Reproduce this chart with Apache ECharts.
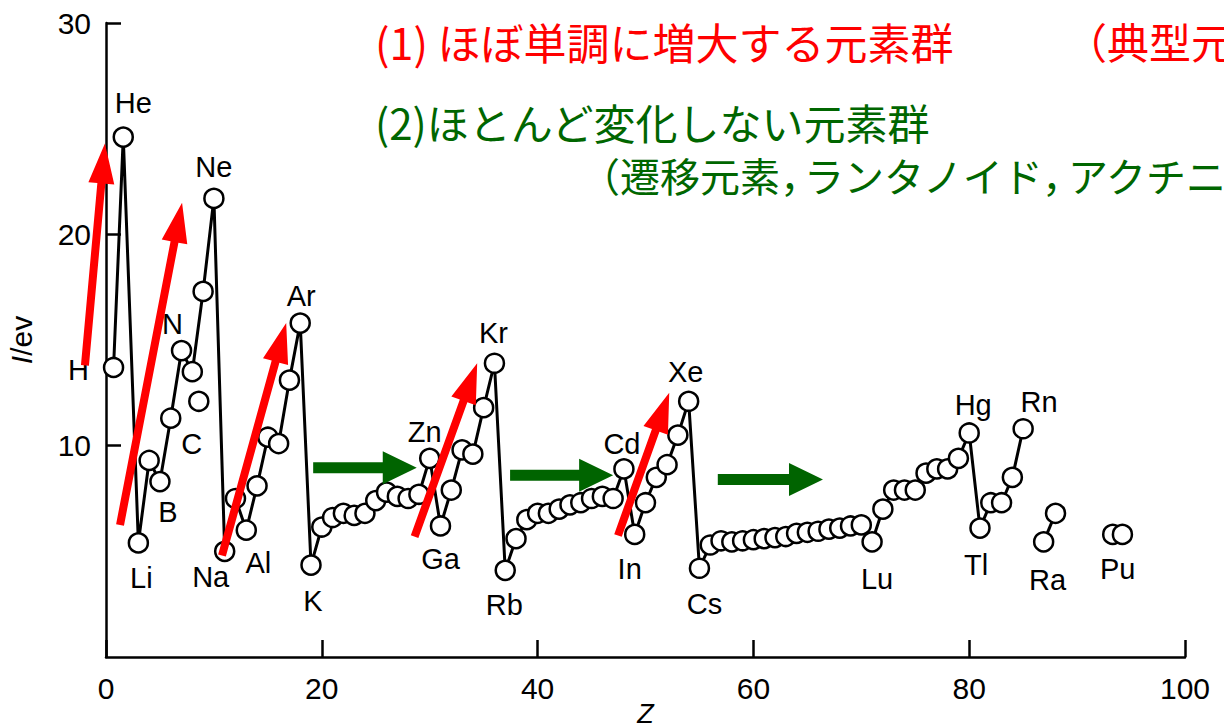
<!DOCTYPE html>
<html>
<head>
<meta charset="utf-8">
<script src="https://cdn.jsdelivr.net/npm/echarts@6/dist/echarts.min.js"></script>
<style>
html, body { margin: 0; padding: 0; background: #fff; overflow: hidden; }
#chart { width: 1224px; height: 727px; }
</style>
</head>
<body>
<div id="chart"></div>
<script>
// First ionization energy (eV) against atomic number Z — connected sequence H … Rn
const mainSym = ['H','He','Li','Be','B','C','N','O','F','Ne',
  'Na','Mg','Al','Si','P','S','Cl','Ar',
  'K','Ca','Sc','Ti','V','Cr','Mn','Fe','Co','Ni','Cu','Zn','Ga','Ge','As','Se','Br','Kr',
  'Rb','Sr','Y','Zr','Nb','Mo','Tc','Ru','Rh','Pd','Ag','Cd','In','Sn','Sb','Te','I','Xe',
  'Cs','Ba','La','Ce','Pr','Nd','Pm','Sm','Eu','Gd','Tb','Dy','Ho','Er','Tm','Yb','Lu',
  'Hf','Ta','W','Re','Os','Ir','Pt','Au','Hg','Tl','Pb','Bi','Po','Rn'];
const mainZ = [0.7,1.6,3,4,5,6,7,8,9,10,
  11,12,13,14,15,16,17,18,
  19,20,21,22,23,24,25,26,27,28,29,30,31,32,33,34,35,36,
  37,38,39,40,41,42,43,44,45,46,47,48,49,50,51,52,53,54,
  55,56,57,58,59,60,61,62,63,64,65,66,67,68,69,70,71,
  72,73,74,75,76,77,78,79,80,81,82,83,84,85];
const mainIE = [13.7,24.6,5.4,9.3,8.3,11.3,14.5,13.5,17.3,21.7,
  5.0,7.5,6.0,8.1,10.4,10.1,13.1,15.8,
  4.35,6.15,6.6,6.8,6.7,6.8,7.4,7.8,7.6,7.5,7.7,9.4,6.2,7.9,9.8,9.6,11.8,13.9,
  4.1,5.6,6.5,6.8,6.8,7.0,7.2,7.3,7.5,7.6,7.5,8.9,5.8,7.3,8.5,9.1,10.5,12.1,
  4.2,5.3,5.5,5.45,5.5,5.55,5.6,5.65,5.7,5.85,5.9,5.95,6.05,6.1,6.2,6.25,5.45,
  7.0,7.9,7.9,7.9,8.7,8.9,8.9,9.4,10.6,6.1,7.3,7.3,8.5,10.8];

// Ra – Ac pair
const raSym = ['Ra','Ac'];
const raZ = [86.9, 88.0];
const raIE = [5.45, 6.8];

// actinide pair
const puSym = ['Pu','Am'];
const puZ = [93.3, 94.2];
const puIE = [5.8, 5.8];

// stray second oxygen value
const oxZ = [8.6];
const oxIE = [12.1];

// arrows: [Z start, I start, Z end, I end]
const redArrows = [
  [-1.95, 13.8, -0.1, 24.3],
  [1.3, 6.25, 7.05, 21.5],
  [10.75, 4.8, 16.7, 15.8],
  [28.6, 5.7, 34.4, 13.9],
  [47.45, 5.75, 52.2, 12.5]
];
const greenArrows = [
  [19.2, 8.95, 28.8, 8.95],
  [37.45, 8.6, 47.0, 8.6],
  [56.7, 8.4, 66.45, 8.4]
];

// axis ticks
const xTicks = { min: 0, max: 100, step: 20 };
const yTicks = { min: 0, max: 30, step: 10 };

// label placement (pixel offset from the circle centre)
const labelOffsets = {
  He: [10, -34], Ne: [0, -31], Ar: [1, -27], Kr: [-1, -30], Xe: [-3, -29],
  Hg: [4, -28], Rn: [16, -27], Zn: [-5, -26], Cd: [-2, -25],
  H: [-35, 3], N: [-9, -27], C: [21, 26], B: [8, 30], Li: [3, 35],
  Na: [-14, 26], Al: [12, 33], K: [2, 36], Ga: [0, 33], Rb: [-1, 35],
  In: [-5, 35], Cs: [5, 36], Lu: [5, 37], Tl: [-4, 37], Ra: [4, 38], Pu: [5, 35]
};

const LATIN = '"Liberation Sans", Arial, Helvetica, sans-serif';
const CJK = '"Noto Sans CJK JP", "Noto Sans CJK SC", sans-serif';

function points(zs, ies, syms) {
  return zs.map(function (z, i) {
    const item = { value: [z, ies[i]] };
    const off = labelOffsets[syms[i]];
    if (off) {
      item.label = {
        show: true, position: 'inside', offset: off, formatter: syms[i],
        color: '#000', fontSize: 29, fontFamily: LATIN
      };
    }
    return item;
  });
}

function pointSeries(zs, ies, syms, withLine) {
  return {
    type: 'line',
    data: points(zs, ies, syms),
    symbol: 'circle',
    symbolSize: 19,
    showAllSymbol: true,
    lineStyle: { color: '#000', width: withLine ? 3 : 0, opacity: withLine ? 1 : 0 },
    itemStyle: { color: '#fff', borderColor: '#000', borderWidth: 2.5 },
    label: { show: false },
    emphasis: { disabled: true },
    silent: true,
    animation: false,
    z: 3
  };
}

function arrowRenderer(style) {
  return function (params, api) {
    const a = api.coord([api.value(0), api.value(1)]);
    const b = api.coord([api.value(2), api.value(3)]);
    const dx = b[0] - a[0], dy = b[1] - a[1];
    const len = Math.hypot(dx, dy);
    const ux = dx / len, uy = dy / len, nx = -uy, ny = ux;
    const hb = [b[0] - ux * style.headL, b[1] - uy * style.headL];
    const s = style.shaft / 2, h = style.headW / 2;
    return {
      type: 'polygon',
      shape: { points: [
        [a[0] + nx * s, a[1] + ny * s],
        [hb[0] + nx * s, hb[1] + ny * s],
        [hb[0] + nx * h, hb[1] + ny * h],
        [b[0], b[1]],
        [hb[0] - nx * h, hb[1] - ny * h],
        [hb[0] - nx * s, hb[1] - ny * s],
        [a[0] - nx * s, a[1] - ny * s]
      ] },
      style: { fill: style.color }
    };
  };
}

function arrowSeries(data, style) {
  return {
    type: 'custom',
    data: data,
    encode: { x: [0, 2], y: [1, 3] },
    renderItem: arrowRenderer(style),
    clip: false,
    silent: true,
    animation: false,
    z: 5
  };
}

function note(text, left, top, size, color) {
  return { type: 'text', left: left, top: top, style: { text: text, fill: color, font: size + 'px ' + CJK } };
}

const RED = '#ff0000';
const GREEN = '#006600';

const chart = echarts.init(document.getElementById('chart'), null, { renderer: 'svg', width: 1224, height: 727 });
chart.setOption({
  backgroundColor: '#fff',
  animation: false,
  grid: { left: 106, top: 23, width: 1079, height: 634, containLabel: false, outerBoundsMode: 'none' },
  xAxis: {
    type: 'value', min: xTicks.min, max: xTicks.max, interval: xTicks.step,
    axisLine: { show: true, onZero: false, lineStyle: { color: '#000', width: 2.5 } },
    axisTick: { show: true, inside: true, length: 17, lineStyle: { color: '#000', width: 2.5 } },
    axisLabel: { color: '#000', fontSize: 30, fontFamily: LATIN, margin: 16, showMinLabel: true, showMaxLabel: true },
    splitLine: { show: false },
    name: 'Z', nameLocation: 'middle', nameGap: 43, nameMoveOverlap: false,
    nameTextStyle: { color: '#000', fontSize: 27, fontStyle: 'italic', fontFamily: LATIN, verticalAlign: 'top' }
  },
  yAxis: {
    type: 'value', min: yTicks.min, max: yTicks.max, interval: yTicks.step,
    axisLine: { show: true, onZero: false, lineStyle: { color: '#000', width: 2.5 } },
    axisTick: { show: true, inside: true, length: 15, lineStyle: { color: '#000', width: 2.5 } },
    axisLabel: { color: '#000', fontSize: 30, fontFamily: LATIN, margin: 15, showMinLabel: false, showMaxLabel: true },
    splitLine: { show: false },
    name: '{i|I}/ev', nameLocation: 'middle', nameRotate: 90, nameGap: 70,
    nameTextStyle: {
      color: '#000', fontSize: 30, fontFamily: LATIN,
      rich: { i: { fontStyle: 'italic', fontSize: 30, fontFamily: LATIN, color: '#000' } }
    }
  },
  graphic: [
    note('(1) ほぼ単調に増大する元素群', 375, 19, 43, RED),
    note('（典型元素）', 1065, 19, 42, RED),
    note('(2)ほとんど変化しない元素群', 375, 100, 42, GREEN),
    note('（遷移元素，', 580, 155, 40, GREEN),
    note('ランタノイド，', 804, 155, 40, GREEN),
    note('アクチニド）', 1068, 155, 40, GREEN)
  ],
  series: [
    pointSeries(mainZ, mainIE, mainSym, true),
    pointSeries(raZ, raIE, raSym, true),
    pointSeries(puZ, puIE, puSym, false),
    pointSeries(oxZ, oxIE, ['O'], false),
    arrowSeries(greenArrows, { color: '#006400', shaft: 11, headW: 33, headL: 34 }),
    arrowSeries(redArrows, { color: RED, shaft: 8, headW: 26, headL: 40 })
  ]
});
</script>
</body>
</html>
